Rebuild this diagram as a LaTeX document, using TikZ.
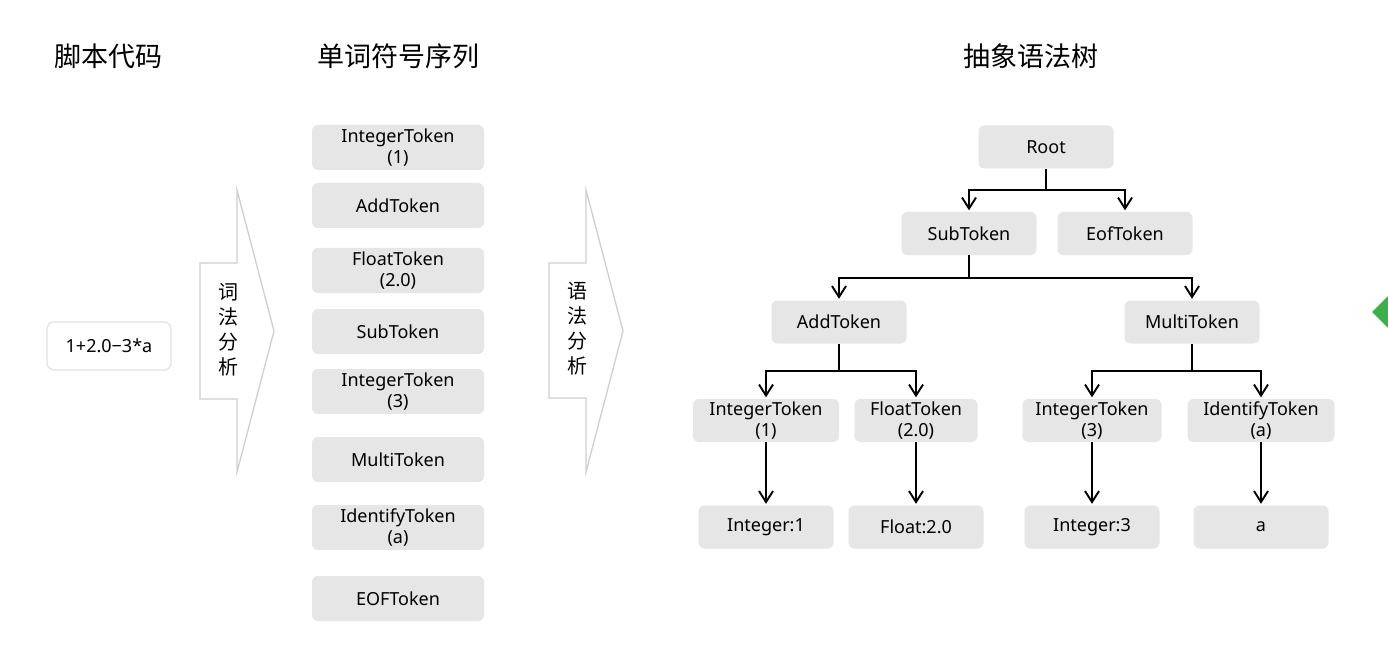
\documentclass[tikz,border=0pt]{standalone}
\usepackage{fontspec}
\setmainfont{Noto Sans}
\newfontfamily\cjk{Noto Sans CJK SC}
\usetikzlibrary{arrows.meta}
\definecolor{boxgray}{HTML}{E6E6E6}
\definecolor{arrowgray}{HTML}{CFCFCF}
\definecolor{srcborder}{HTML}{E3E3E3}
\definecolor{gdiamond}{HTML}{3DAE49}
\tikzset{
  tok/.style={fill=boxgray, rounded corners=6pt, inner sep=0pt, align=center,
    font=\fontsize{18}{21}\selectfont},
  colbox/.style={tok, minimum width=172pt, minimum height=45pt},
  treebox/.style={tok, minimum width=135pt, minimum height=43pt},
  title/.style={font=\cjk\fontsize{27}{30}\selectfont},
  vtext/.style={font=\cjk\fontsize{20}{25}\selectfont, align=center},
  blockarrow/.style={draw=arrowgray, line width=1.3pt, fill=white, line join=miter},
  link/.style={draw=black, line width=1.9pt},
  arr/.style={link, shorten >=1.5pt, -{Straight Barb[length=11pt,width=14pt,line width=1.9pt]}},
}
\begin{document}
\begin{tikzpicture}[x=1pt,y=-1pt]
\useasboundingbox (0,0) rectangle (1388,652);
\fill[white] (0,0) rectangle (1388,652);

% titles
\node[title] (t1) at (108,56) {脚本代码};
\node[title] (t2) at (398,56) {单词符号序列};
\node[title] (t3) at (1031,56) {抽象语法树};

% source
\node[draw=srcborder, line width=1.3pt, fill=white, rounded corners=7pt,
  minimum width=124pt, minimum height=48pt, inner sep=0pt,
  font=\fontsize{18}{20}\selectfont] (src) at (109,346) {1+2.0−3*a};

% block arrows
\draw[blockarrow] (200,263) -- (237,263) -- (237,190) -- (274,331) -- (237,472) -- (237,399) -- (200,399) -- cycle;
\node[vtext] (lex) at (228,330) {词\\法\\分\\析};
\draw[blockarrow] (549,263) -- (586,263) -- (586,190) -- (623,331) -- (586,472) -- (586,398) -- (549,398) -- cycle;
\node[vtext] (syn) at (577,329) {语\\法\\分\\析};

% token column
\node[colbox] (c1) at (398,147.5) {IntegerToken\\(1)};
\node[colbox] (c2) at (398,205.5) {AddToken};
\node[colbox] (c3) at (398,270.5) {FloatToken\\(2.0)};
\node[colbox] (c4) at (398,331.5) {SubToken};
\node[colbox] (c5) at (398,391.5) {IntegerToken\\(3)};
\node[colbox] (c6) at (398,459.5) {MultiToken};
\node[colbox] (c7) at (398,527.5) {IdentifyToken\\(a)};
\node[colbox] (c8) at (398,598.5) {EOFToken};

% tree
\node[treebox] (root) at (1046,147) {Root};
\node[treebox] (sub) at (969,233.5) {SubToken};
\node[treebox] (eof) at (1125,233.5) {EofToken};
\node[treebox] (add) at (839,322) {AddToken};
\node[treebox] (mul) at (1192,322) {MultiToken};
\node[treebox, minimum width=146pt] (i1) at (766,420.5) {IntegerToken\\(1)};
\node[treebox, minimum width=123pt] (f2) at (916,420.5) {FloatToken\\(2.0)};
\node[treebox, minimum width=139pt] (i3) at (1092,420.5) {IntegerToken\\(3)};
\node[treebox, minimum width=147pt] (id) at (1261,420.5) {IdentifyToken\\(a)};
\node[treebox] (l1) at (766,527) {Integer:1};
\node[treebox] (l2) at (916,527) {Float:2.0};
\node[treebox] (l3) at (1092,527) {Integer:3};
\node[treebox] (l4) at (1261,527) {a};

% tree connectors
\coordinate (j1) at (1046,190);
\draw[link] (root.south) -- (j1);
\draw[arr] (j1) -| (sub.north);
\draw[arr] (j1) -| (eof.north);

\coordinate (j2) at (969,278);
\draw[link] (sub.south) -- (j2);
\draw[arr] (j2) -| (add.north);
\draw[arr] (j2) -| (mul.north);

\coordinate (j3) at (839,371);
\draw[link] (add.south) -- (j3);
\draw[arr] (j3) -| (i1.north);
\draw[arr] (j3) -| (f2.north);

\coordinate (j4) at (1192,371);
\draw[link] (mul.south) -- (j4);
\draw[arr] (j4) -| (i3.north);
\draw[arr] (j4) -| (id.north);

\draw[arr] (i1.south) -- (l1.north);
\draw[arr] (f2.south) -- (l2.north);
\draw[arr] (i3.south) -- (l3.north);
\draw[arr] (id.south) -- (l4.north);

% green diamond cut by the right edge
\begin{scope}
\clip (0,0) rectangle (1388,652);
\fill[gdiamond] (1372,312) -- (1390,294) -- (1408,312) -- (1390,330) -- cycle;
\end{scope}
\end{tikzpicture}
\end{document}
